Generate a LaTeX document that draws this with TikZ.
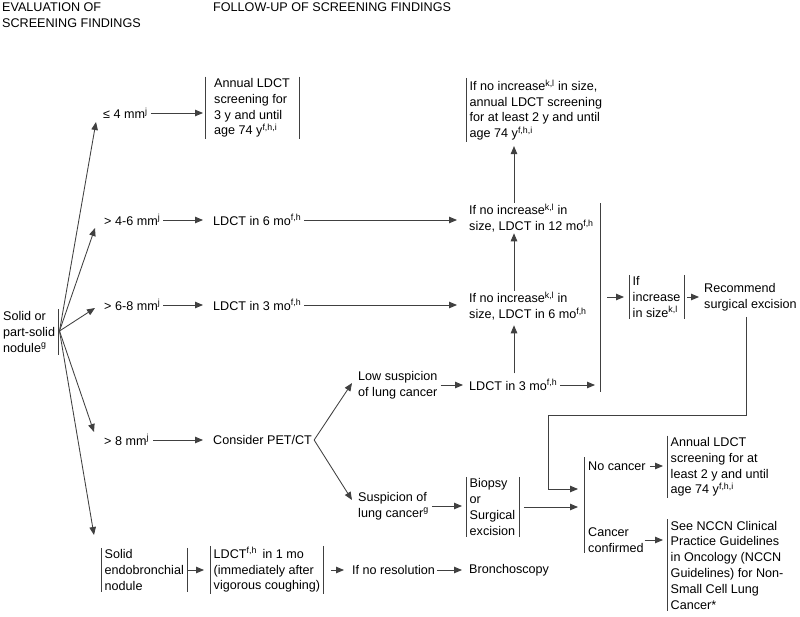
\documentclass[tikz,border=0pt]{standalone}
\usepackage{fontspec}
\setmainfont{Liberation Sans}
\usetikzlibrary{arrows.meta}
\newcommand{\sps}[1]{\textsuperscript{#1}}
\begin{document}
\begin{tikzpicture}[x=1pt,y=-1pt,
  every node/.style={inner sep=0pt, anchor=west, align=left,
    font=\fontsize{12.6}{15.8}\selectfont, text=black},
  box/.style={inner xsep=3.5pt, inner ysep=1.5pt},
  ln/.style={draw=black!75, line width=0.85pt},
  arr/.style={ln, -{Triangle[length=8pt,width=6.5pt]}},
]
\useasboundingbox[fill=white] (0,0) rectangle (800,616);

% headers
\node[anchor=north west] (hA) at (2,3) {EVALUATION OF\\SCREENING FINDINGS};
\node[anchor=north west] (hB) at (213,3) {FOLLOW-UP OF SCREENING FINDINGS};

% left column
\node[box, inner xsep=0pt] (solid) at (3,332) {Solid or\\part-solid\\nodule\sps{g}};
\coordinate (sbT) at (58,309);
\coordinate (sbB) at (58,355);
\coordinate (fan) at (59.5,331);

\node (n4) at (103,113) {≤ 4 mm\sps{j}};
\node (n46) at (104,220) {> 4-6 mm\sps{j}};
\node (n68) at (104,305) {> 6-8 mm\sps{j}};
\node (n8) at (104,440) {> 8 mm\sps{j}};
\node[box] (endo) at (101,570) {Solid\\endobronchial\\nodule};

\coordinate (t4) at (96,122);
\coordinate (t46) at (95,228);
\coordinate (t68) at (95,308);
\coordinate (t8) at (94,432);
\coordinate (tE) at (94,535);

% second column
\node[box, inner xsep=9pt] (annual1) at (205,108) {Annual LDCT\\screening for\\3 y and until\\age 74 y\sps{f,h,i}};
\node (ldct6) at (213,220) {LDCT in 6 mo\sps{f,h}};
\node (ldct3) at (213,305) {LDCT in 3 mo\sps{f,h}};
\node (pet) at (213,440) {Consider PET/CT};
\node[box] (ldct1) at (210,570) {LDCT\sps{f,h}\, in 1 mo\\(immediately after\\vigorous coughing)};

% third column
\node (low) at (358,385) {Low suspicion\\of lung cancer};
\node (susp) at (358,506) {Suspicion of\\lung cancer\sps{g}};
\node (nores) at (352,570) {If no resolution};
\coordinate (tL) at (352,383);
\coordinate (tS) at (352,500);

% fourth column
\node[box] (inctop) at (466,110) {If no increase\sps{k,l} in size,\\annual LDCT screening\\for at least 2 y and until\\age 74 y\sps{f,h,i}};
\node (inc12) at (469,218) {If no increase\sps{k,l} in\\size, LDCT in 12 mo\sps{f,h}};
\node (inc6) at (469,306) {If no increase\sps{k,l} in\\size, LDCT in 6 mo\sps{f,h}};
\node (ldct3b) at (469,385) {LDCT in 3 mo\sps{f,h}};
\node[box] (biopsy) at (466,507) {Biopsy\\or\\Surgical\\excision};
\node (broncho) at (469,570) {Bronchoscopy};
\coordinate (vx) at (514,0);

% bracket at x=600
\coordinate (bT) at (600,203);
\coordinate (bB) at (600,392);

\node[box] (ifinc) at (629,297) {If\\increase\\in size\sps{k,l}};
\node (recom) at (704,297) {Recommend\\surgical excision};
\coordinate (r1) at (746,415);
\coordinate (r2) at (548,415);
\coordinate (r3) at (584,489);

% outcome column
\coordinate (cT) at (584,457);
\coordinate (cB) at (584,553);
\node (nocancer) at (588,466) {No cancer};
\node (cancer) at (588,540) {Cancer\\confirmed};
\node[box] (annual2) at (667,467) {Annual LDCT\\screening for at\\least 2 y and until\\age 74 y\sps{f,h,i}};
\node[box] (nccn) at (667,565) {See NCCN Clinical\\Practice Guidelines\\in Oncology (NCCN\\Guidelines) for Non-\\Small Cell Lung\\Cancer*};

% bars
\draw[ln] (sbT) -- (sbB);
\foreach \n in {endo,annual1,ldct1,inctop,biopsy,ifinc,annual2,nccn}
  \draw[ln] (\n.north west) -- (\n.south west);
\foreach \n in {endo,annual1,ldct1,biopsy,ifinc}
  \draw[ln] (\n.north east) -- (\n.south east);
\draw[ln] (bT) -- (bB);
\draw[ln] (cT) -- (cB);

% fan arrows
\foreach \t in {t4,t46,t68,t8,tE}
  \draw[arr] (fan) -- (\t);
\draw[arr] ([xshift=2pt]pet.east) -- (tL);
\draw[arr] ([xshift=2pt]pet.east) -- (tS);

% horizontal arrows
\draw[arr, shorten <=3pt, shorten >=2pt] (n4.east) -- (n4.east -| annual1.west);
\draw[arr, shorten <=3pt, shorten >=10pt] (n46.east) -- (n46.east -| ldct6.west);
\draw[arr, shorten <=3pt, shorten >=10pt] (n68.east) -- (n68.east -| ldct3.west);
\draw[arr, shorten <=4pt, shorten >=10pt] (n8.east) -- (n8.east -| pet.west);
\draw[arr, shorten >=6pt] (endo.east) -- (endo.east -| ldct1.west);
\draw[arr, shorten <=7pt, shorten >=8pt] (ldct1.east) -- (ldct1.east -| nores.west);
\draw[arr, shorten <=2pt, shorten >=7pt] (nores.east) -- (nores.east -| broncho.west);
\draw[arr, shorten <=3pt, shorten >=12pt] (ldct6.east) -- (ldct6.east -| inc12.west);
\draw[arr, shorten <=3pt, shorten >=12pt] (ldct3.east) -- (ldct3.east -| inc6.west);
\draw[arr, shorten <=3pt, shorten >=6pt] (low.east) -- (low.east -| ldct3b.west);
\draw[arr, shorten <=3pt, shorten >=4pt] (susp.east) -- (susp.east -| biopsy.west);
\draw[arr, shorten <=3pt, shorten >=5pt] (ldct3b.east) -- (ldct3b.east -| bB);
\draw[arr, shorten <=7pt, shorten >=5pt] (ifinc.west -| bT) -- (ifinc.west);
\draw[arr, shorten <=3pt, shorten >=5pt] (ifinc.east) -- (ifinc.east -| recom.west);
\draw[arr, shorten <=5pt, shorten >=6pt] (biopsy.east) -- (biopsy.east -| cT);
\draw[arr, shorten <=4pt, shorten >=4pt] (nocancer.east) -- (nocancer.east -| annual2.west);
\draw[arr, shorten <=1pt, shorten >=4pt] (cancer.east) -- (cancer.east -| nccn.west);

% vertical arrows
\draw[arr, shorten <=1pt, shorten >=4pt] (inc12.north -| vx) -- (inctop.south -| vx);
\draw[arr, shorten <=1pt, shorten >=1pt] (inc6.north -| vx) -- (inc12.south -| vx);
\draw[arr, shorten <=6pt, shorten >=5pt] (ldct3b.north -| vx) -- (inc6.south -| vx);

% recommend -> outcome
\draw[arr, shorten <=6pt, shorten >=6pt] (recom.south -| r1) -- (r1) -- (r2) |- (r3);
\end{tikzpicture}
\end{document}
